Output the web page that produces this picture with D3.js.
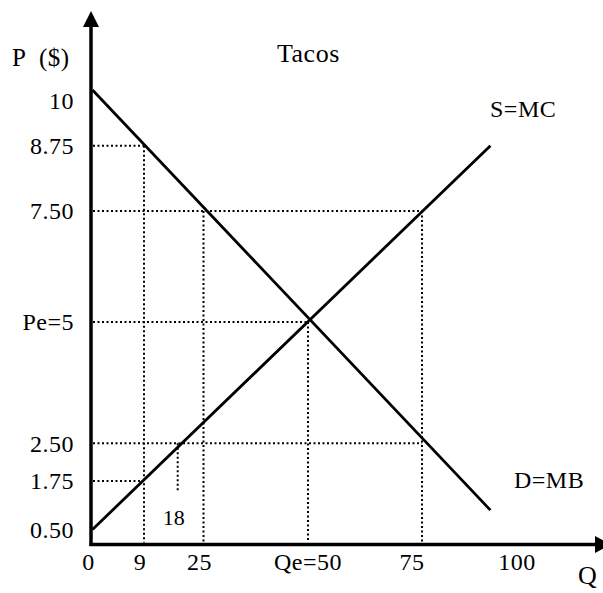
<!DOCTYPE html>
<html>
<head>
<meta charset="utf-8">
<script src="https://cdn.jsdelivr.net/npm/d3@7/dist/d3.min.js"></script>
<style>
  body { margin: 0; background: #fff; }
  svg { display: block; }
  text { font-family: "Liberation Serif", "Times New Roman", serif; fill: #000; }
</style>
</head>
<body>
<div id="chart"></div>
<script>
// Price ticks (value, label) and quantity ticks
const priceTicks  = [10, 8.75, 7.5, 5, 2.5, 1.75, 0.5];
const priceLabels = ["10", "8.75", "7.50", "Pe=5", "2.50", "1.75", "0.50"];
const qtyTicks    = [0, 9, 25, 50, 75, 100];
const qtyLabels   = ["0", "9", "25", "Qe=50", "75", "100"];

// Demand (MB) and supply (MC) end points: [Q, P]
const demandPts = [[0, 10], [93, 1.0]];
const supplyPts = [[0, 0.5], [93, 8.75]];

// Dotted guides: horizontal from the P axis out to Q, vertical from P down to the Q axis
const hGuides = [[8.75, 9], [7.5, 75], [5, 50], [2.5, 75], [1.75, 9]];
const vGuides = [[9, 8.75], [25, 7.5], [50, 5], [75, 7.5]];
// short marker at Q=18 (from P=2.5 down to P=1.5)
const marker18 = { q: 18, pTop: 2.5, pBottom: 1.5, label: "18" };

const W = 603, H = 593;
const axisX = 91, axisY = 544.5;

// hand-drawn diagram: piecewise scales follow the spacing of the sketch
const x = d3.scaleLinear()
    .domain([0, 9, 18, 25, 50, 75, 100])
    .range([92.5, 144, 177.7, 203.5, 308, 422, 517]);
const y = d3.scaleLinear()
    .domain([0.5, 1.75, 2.5, 5, 7.5, 8.75, 10])
    .range([529.5, 481, 443.3, 322, 211, 145.7, 90]);

const svg = d3.select("#chart").append("svg")
    .attr("width", W).attr("height", H);

// Dotted guide lines
const dot = g => g.attr("stroke", "#000")
    .attr("stroke-width", 2)
    .attr("stroke-dasharray", "2,2.5")
    .attr("fill", "none");

svg.selectAll(".hguide").data(hGuides).enter()
    .append("line").attr("class", "hguide")
    .attr("x1", axisX + 2).attr("x2", d => x(d[1]))
    .attr("y1", d => y(d[0])).attr("y2", d => y(d[0]))
    .call(dot);

svg.selectAll(".vguide").data(vGuides).enter()
    .append("line").attr("class", "vguide")
    .attr("x1", d => x(d[0])).attr("x2", d => x(d[0]))
    .attr("y1", d => y(d[1])).attr("y2", axisY - 2)
    .call(dot);

svg.append("line")
    .attr("x1", x(marker18.q)).attr("x2", x(marker18.q))
    .attr("y1", y(marker18.pTop)).attr("y2", y(marker18.pBottom))
    .call(dot);

// Demand and supply
const line = d3.line().x(d => x(d[0])).y(d => y(d[1]));
[demandPts, supplyPts].forEach(pts => {
    svg.append("path")
        .attr("d", line(pts))
        .attr("fill", "none")
        .attr("stroke", "#000")
        .attr("stroke-width", 2.8);
});

// Axes with arrow heads
svg.append("line")
    .attr("x1", axisX).attr("x2", axisX)
    .attr("y1", axisY + 1.5).attr("y2", 24)
    .attr("stroke", "#000").attr("stroke-width", 3.5);
svg.append("path")
    .attr("d", `M${axisX - 8},27 L${axisX},11 L${axisX + 8},27 Z`)
    .attr("fill", "#000");

svg.append("line")
    .attr("x1", axisX - 1.5).attr("x2", 598)
    .attr("y1", axisY).attr("y2", axisY)
    .attr("stroke", "#000").attr("stroke-width", 3.5);
svg.append("path")
    .attr("d", `M595,${axisY - 8.5} L611,${axisY} L595,${axisY + 8.5} Z`)
    .attr("fill", "#000");

// Price tick labels
svg.selectAll(".plabel").data(priceTicks).enter()
    .append("text").attr("class", "plabel")
    .attr("x", 74)
    .attr("y", d => y(d) + (d === 10 ? 11 : 0))
    .attr("dy", "0.35em")
    .attr("text-anchor", "end")
    .style("font-size", "24px")
    .style("letter-spacing", "0.5px")
    .text((d, i) => priceLabels[i]);

// Quantity tick labels
svg.selectAll(".qlabel").data(qtyTicks).enter()
    .append("text").attr("class", "qlabel")
    .attr("x", d => x(d) - (d === 75 ? 10 : d === 50 || d === 100 ? 0 : 4))
    .attr("y", 562)
    .attr("dy", "0.35em")
    .attr("text-anchor", "middle")
    .style("font-size", "24px")
    .style("letter-spacing", "0.5px")
    .text((d, i) => qtyLabels[i]);

svg.append("text")
    .attr("x", x(marker18.q) - 4).attr("y", y(marker18.pBottom) + 27)
    .attr("dy", "0.35em").attr("text-anchor", "middle")
    .style("font-size", "22px")
    .text(marker18.label);

// Titles and curve names
const label = (tx, ty, str, size, anchor) => svg.append("text")
    .attr("x", tx).attr("y", ty).attr("dy", "0.35em")
    .attr("text-anchor", anchor || "start")
    .style("font-size", size + "px")
    .style("letter-spacing", "0.5px")
    .style("white-space", "pre")
    .text(str);

label(12, 57, "P  ($)", 25);
label(277, 53, "Tacos", 26);
label(490, 108.5, "S=MC", 24);
label(514, 480, "D=MB", 24);
label(578, 575, "Q", 26);
</script>
</body>
</html>
